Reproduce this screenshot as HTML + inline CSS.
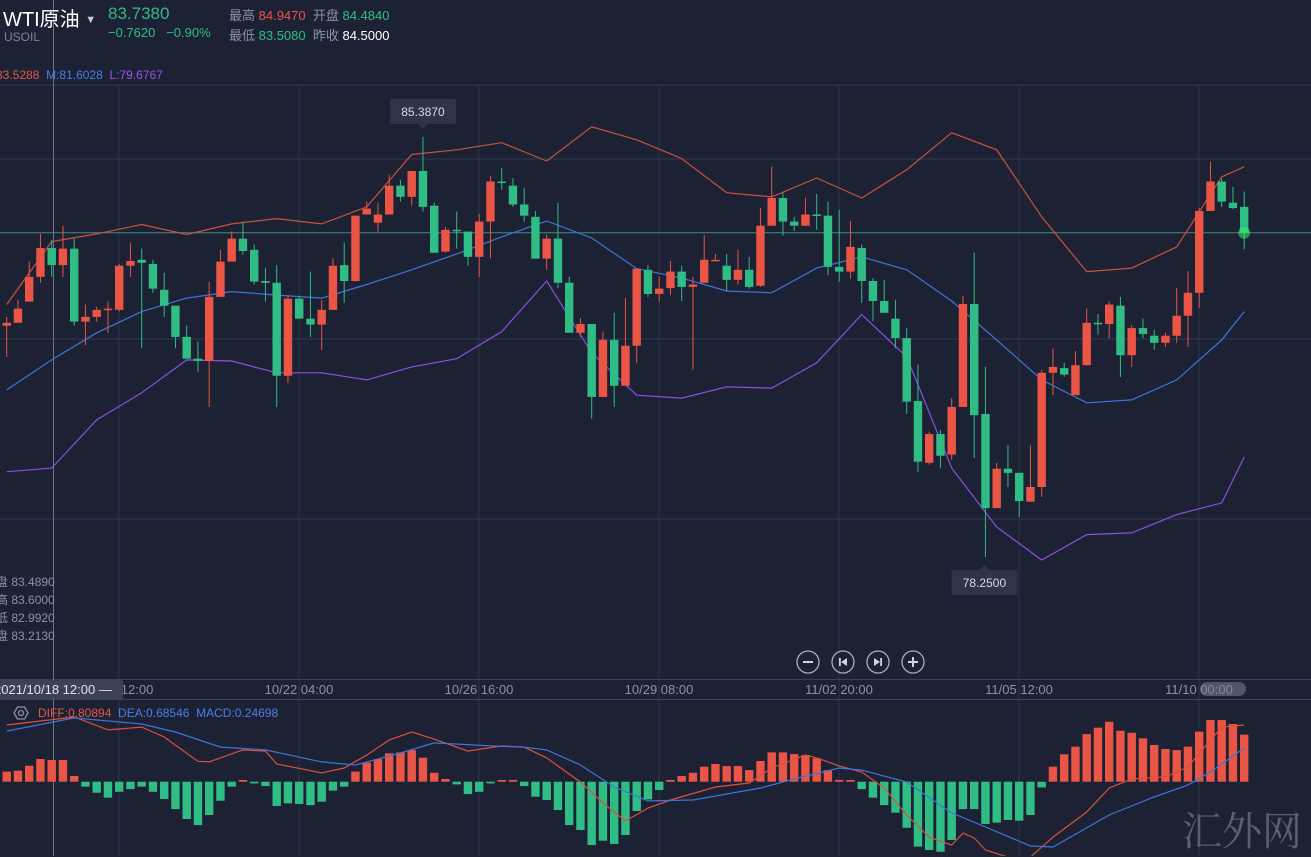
<!DOCTYPE html>
<html><head><meta charset="utf-8">
<style>
html,body{margin:0;padding:0;background:#1c2234;}
body{width:1311px;height:856px;overflow:hidden;position:relative;font-family:"Liberation Sans","Noto Sans CJK SC",sans-serif;}
.t{position:absolute;white-space:nowrap;}
svg{position:absolute;left:0;top:0;}
</style></head>
<body>
<svg id="chart" width="1311" height="856"></svg>

<div class="t" style="left:3px;top:3px;font-size:20px;color:#fff;">WTI原油 <span style="font-size:11px;color:#ccc;vertical-align:3px">▼</span></div>
<div class="t" style="left:4px;top:30px;font-size:12px;color:#7d8699;">USOIL</div>
<div class="t" style="left:108px;top:4px;font-size:17px;color:#2ebd85;">83.7380</div>
<div class="t" style="left:108px;top:25px;font-size:13px;color:#2ebd85;">−0.7620&nbsp;&nbsp;&nbsp;−0.90%</div>
<div class="t" style="left:229px;top:5px;font-size:13px;color:#8a93a6;">最高 <span style="color:#ea5546">84.9470</span>&nbsp;&nbsp;开盘 <span style="color:#2ebd85">84.4840</span></div>
<div class="t" style="left:229px;top:25px;font-size:13px;color:#8a93a6;">最低 <span style="color:#2ebd85">83.5080</span>&nbsp;&nbsp;昨收 <span style="color:#fff">84.5000</span></div>
<div class="t" style="left:-4px;top:68px;font-size:12px;"><span style="color:#e0584a">83.5288</span>&nbsp;&nbsp;<span style="color:#4a7fe6">M:81.6028</span>&nbsp;&nbsp;<span style="color:#9b55e8">L:79.6767</span></div>
<div class="t" style="left:-4px;top:573px;font-size:12px;line-height:18px;color:#8a93a6;">盘 83.4890<br>高 83.6000<br>低 82.9920<br>盘 83.2130</div>
<div class="t" style="left:38px;top:706px;font-size:12px;"><span style="color:#e0584a">DIFF:0.80894</span>&nbsp;&nbsp;<span style="color:#4a7fe6">DEA:0.68546</span>&nbsp;&nbsp;<span style="color:#4a7fe6">MACD:0.24698</span></div>
<div class="t" style="left:1182px;top:800px;font-size:40px;color:#5a6070;font-family:'Noto Serif CJK SC',serif;">汇外网</div>

<script>
const opens=[82.18,82.23,82.59,83.01,83.50,83.21,83.49,82.25,82.33,82.45,82.45,83.20,83.30,83.23,82.79,82.52,81.99,81.62,81.58,82.67,83.27,83.66,83.47,82.94,82.91,81.33,82.64,82.30,82.20,82.45,83.21,82.94,84.07,83.93,84.07,84.56,84.37,84.81,84.22,83.44,83.81,83.78,83.35,83.95,84.63,84.56,84.24,84.03,83.32,83.66,82.91,82.06,82.21,80.97,81.94,81.16,81.84,83.13,82.72,82.82,83.10,82.84,82.91,83.28,83.20,82.96,83.13,82.86,83.88,84.35,83.95,83.88,84.07,84.05,83.18,83.10,83.50,82.94,82.60,82.30,81.97,80.90,79.85,80.34,79.99,80.80,82.55,80.68,79.08,79.75,79.68,79.19,79.44,81.38,81.46,81.00,81.51,82.23,82.21,82.52,81.68,82.14,82.01,81.89,82.01,82.35,82.74,84.13,84.63,84.27,84.20];
const closes=[82.23,82.47,83.01,83.50,83.21,83.49,82.25,82.33,82.45,82.47,83.20,83.28,83.25,82.81,82.52,81.99,81.62,81.58,82.67,83.27,83.66,83.45,82.93,82.91,81.33,82.64,82.30,82.20,82.45,83.20,82.94,84.05,84.17,84.07,84.56,84.37,84.81,84.20,83.42,83.81,83.79,83.35,83.95,84.63,84.61,84.24,84.05,83.32,83.66,82.91,82.06,82.21,80.97,81.94,81.16,81.84,83.15,82.72,82.81,83.10,82.84,82.88,83.30,83.30,82.96,83.13,82.84,83.88,84.35,83.95,83.88,84.07,84.05,83.18,83.10,83.52,82.94,82.60,82.40,81.97,80.89,79.87,80.34,79.97,80.80,82.55,80.66,79.08,79.75,79.68,79.20,79.44,81.38,81.48,81.35,81.51,82.23,82.21,82.54,81.68,82.14,82.04,81.89,82.01,82.35,82.74,84.13,84.63,84.29,84.18,83.76];
const highs=[82.33,82.62,83.27,83.74,83.64,83.88,83.66,82.54,82.50,82.59,83.23,83.59,83.49,83.30,83.08,82.52,82.18,81.91,82.93,83.47,83.78,83.95,83.56,83.16,83.21,82.70,82.69,83.10,82.62,83.33,83.59,84.05,84.29,84.27,84.75,84.66,84.81,85.39,84.27,83.86,84.12,83.78,84.08,84.73,84.86,84.69,84.52,84.13,83.73,84.27,83.01,82.31,82.21,82.08,82.40,82.65,83.15,83.21,83.01,83.28,83.20,83.01,83.72,83.40,83.40,83.47,83.35,84.18,84.88,84.46,84.03,84.35,84.42,84.29,84.15,83.96,83.56,82.99,82.96,82.62,82.14,81.52,80.38,80.41,80.95,82.69,83.42,81.48,79.85,80.15,79.68,80.15,81.43,81.79,81.55,81.75,82.47,82.38,82.59,82.67,82.19,82.30,82.11,82.06,82.82,83.11,84.18,84.97,84.68,84.54,84.46];
const lows=[81.65,82.23,82.59,82.91,83.01,83.01,82.18,81.85,82.25,82.06,82.42,83.01,81.80,82.74,82.33,81.80,81.62,81.40,80.80,82.67,83.27,83.39,82.88,82.59,80.80,81.21,82.30,81.99,81.77,82.45,82.57,82.93,84.07,83.78,84.07,84.29,84.22,84.12,83.42,83.42,83.49,83.20,83.01,83.33,84.49,84.20,83.95,83.32,83.13,82.82,82.06,81.99,80.60,80.97,80.80,81.16,81.55,82.67,82.59,82.70,82.60,81.43,82.91,83.28,82.77,82.88,82.81,82.84,83.88,83.71,83.79,83.88,83.81,83.04,82.93,82.98,82.57,82.26,82.40,81.80,80.68,79.70,79.82,79.76,79.90,80.80,79.93,78.25,79.08,79.44,78.93,79.19,79.27,81.00,81.31,81.00,81.50,82.03,81.97,81.31,81.48,81.97,81.77,81.82,81.89,81.82,82.48,84.13,84.20,84.16,83.48];
const bandIdx=[0,4,8,12,16,20,24,28,32,36,40,44,48,52,56,60,64,68,72,76,80,84,88,92,96,100,104,108,110];
const bollUpper=[82.54,83.61,83.74,83.90,83.73,83.91,84.00,83.91,84.20,85.09,85.17,85.29,84.98,85.56,85.34,85.02,84.44,84.37,84.69,84.35,84.83,85.46,85.17,84.03,83.10,83.16,83.52,84.71,84.88];
const bollMid=[81.09,81.60,82.06,82.42,82.65,82.76,82.70,82.65,82.88,83.13,83.40,83.69,83.96,83.67,83.15,82.99,82.77,82.74,83.16,83.35,83.13,82.60,81.94,81.26,80.87,80.92,81.26,81.94,82.42];
const bollLower=[79.70,79.76,80.58,81.04,81.60,81.58,81.38,81.38,81.26,81.48,81.62,82.08,82.94,81.72,81.00,80.95,81.14,81.12,81.55,82.37,81.65,79.76,78.76,78.20,78.63,78.66,78.97,79.17,79.95];
const macdHist=[0.053,0.058,0.084,0.119,0.114,0.114,0.030,-0.026,-0.058,-0.084,-0.053,-0.039,-0.026,-0.053,-0.091,-0.144,-0.196,-0.228,-0.175,-0.100,-0.026,0.009,-0.009,-0.023,-0.128,-0.114,-0.117,-0.123,-0.105,-0.047,-0.026,0.053,0.100,0.119,0.149,0.154,0.166,0.126,0.047,0.014,-0.014,-0.065,-0.053,-0.009,0.009,0.009,-0.023,-0.079,-0.096,-0.149,-0.228,-0.254,-0.333,-0.310,-0.327,-0.280,-0.154,-0.093,-0.044,0.009,0.030,0.047,0.079,0.093,0.082,0.082,0.061,0.109,0.154,0.154,0.145,0.140,0.123,0.061,0.009,0.009,-0.039,-0.084,-0.123,-0.163,-0.242,-0.341,-0.359,-0.368,-0.306,-0.144,-0.144,-0.222,-0.215,-0.201,-0.205,-0.175,-0.030,0.079,0.144,0.184,0.250,0.284,0.315,0.268,0.257,0.228,0.193,0.172,0.166,0.184,0.263,0.324,0.324,0.303,0.247];
const deaIdx=[0,6,12,15,19,23,28,31,35,38,43,46,48,51,54,57,61,67,70,74,76,80,84,87,91,93,98,102,105,107,110];
const deaVals=[0.266,0.335,0.303,0.261,0.182,0.167,0.104,0.088,0.151,0.204,0.188,0.182,0.167,0.088,-0.028,-0.101,-0.096,-0.033,0.014,0.072,0.061,-0.002,-0.164,-0.238,-0.338,-0.343,-0.175,-0.080,-0.017,0.051,0.177];
const diffIdx=[0,6,9,12,14,17,18,21,23,24,28,30,32,34,36,38,41,44,46,48,51,53,55,57,59,63,66,68,71,72,74,76,78,80,82,84,85,86,87,89,91,93,96,98,100,103,105,107,108,110];
const diffVals=[0.298,0.340,0.272,0.287,0.235,0.107,0.104,0.167,0.161,0.093,0.046,0.072,0.140,0.219,0.261,0.224,0.161,0.188,0.182,0.125,-0.002,-0.112,-0.206,-0.138,-0.096,-0.028,-0.007,0.072,0.140,0.125,0.083,0.051,-0.033,-0.175,-0.291,-0.333,-0.270,-0.296,-0.359,-0.396,-0.396,-0.291,-0.159,-0.033,0.014,0.025,0.077,0.219,0.287,0.298];
const timeLabels=["10/19 12:00","10/22 04:00","10/26 16:00","10/29 08:00","11/02 20:00","11/05 12:00","11/10 00:00"];

const svg=document.getElementById('chart');
const NS='http://www.w3.org/2000/svg';
const X=i=>6.7+i*11.25;
const Y=p=>137+(85.387-p)*58.85;
const MY=v=>781.7-v*190.3;
const UP='#ea5546',DN='#2fbd85';
function mk(tag,attrs,parent){const e=document.createElementNS(NS,tag);for(const k in attrs)e.setAttribute(k,attrs[k]);(parent||svg).appendChild(e);return e;}

// grid
const grid=mk('g',{});


[85,159,339,519].forEach(y=>mk('line',{x1:0,x2:1311,y1:y,y2:y,stroke:'#323b52','stroke-width':1},grid));
for(let k=0;k<7;k++){const gx=119+180*k;mk('line',{x1:gx,x2:gx,y1:85,y2:856,stroke:'#2c3449','stroke-width':1},grid);}
mk('line',{x1:0,x2:1311,y1:679.5,y2:679.5,stroke:'#39425a'},grid);
mk('line',{x1:0,x2:1311,y1:699.5,y2:699.5,stroke:'#39425a'},grid);
// crosshair
const ch=mk('line',{x1:53.5,x2:53.5,y1:0,y2:856,stroke:'#6c7488','stroke-width':1});


// current price line
const pl=mk('line',{x1:0,x2:1311,y1:Y(closes[closes.length-1]),y2:Y(closes[closes.length-1]),stroke:'#3b8c82','stroke-width':1});



// bands
function poly(idx,vals,fy,color,name){const pts=idx.map((j,k)=>X(j).toFixed(1)+','+fy(vals[k]).toFixed(1)).join(' ');const e=mk('polyline',{points:pts,fill:'none',stroke:color,'stroke-width':1.2});}
poly(bandIdx,bollUpper,Y,'#c9523f','boll-upper');
poly(bandIdx,bollMid,Y,'#3f74d8','boll-mid');
poly(bandIdx,bollLower,Y,'#8b4fe0','boll-lower');

// candles
for(let i=0;i<opens.length;i++){
  const o=opens[i],c=closes[i],up=c>=o,col=up?UP:DN;
  const g=mk('g',{});
  
  
  const hi=Math.max(highs[i],o,c),lo=Math.min(lows[i],o,c);
  mk('line',{x1:X(i),x2:X(i),y1:Y(hi),y2:Y(lo),stroke:col,'stroke-width':1},g);
  const top=Y(Math.max(o,c)),h=Math.max(1.5,Y(Math.min(o,c))-top);
  mk('rect',{x:X(i)-4.2,y:top,width:8.4,height:h,fill:col},g);
}
// glow on last
const last=opens.length-1;
const glow=mk('circle',{cx:X(last),cy:Y(closes[last]),r:6,fill:'#3df06a',opacity:0.55});



// high/low labels
function tag(x,y,txt,down,name){const g=mk('g',{});
  mk('rect',{x:x-33,y:y,width:66,height:25,rx:2,fill:'#2c3549'},g);
  if(down) mk('polygon',{points:`${x-5},${y+25} ${x+5},${y+25} ${x},${y+30}`,fill:'#2c3549'},g);
  else mk('polygon',{points:`${x-5},${y} ${x+5},${y} ${x},${y-5}`,fill:'#2c3549'},g);
  const t=mk('text',{x:x,y:y+17,'text-anchor':'middle','font-size':12,fill:'#d6dae3','font-family':'Liberation Sans'},g);t.textContent=txt;}
const hiIdx=highs.indexOf(Math.max(...highs)),loIdx=lows.indexOf(Math.min(...lows));
tag(X(hiIdx),Y(highs[hiIdx])-38,highs[hiIdx]===85.39?'85.3870':highs[hiIdx].toFixed(4),true,'high-marker');
tag(X(loIdx)-1,Y(lows[loIdx])+13,lows[loIdx].toFixed(4),false,'low-marker');

// time axis
timeLabels.forEach((s,k)=>{const t=mk('text',{x:119+180*k,y:694,'text-anchor':'middle','font-size':13,fill:'#8a93a6','font-family':'Liberation Sans'});t.textContent=s;
  
  });
const cb=mk('rect',{x:0,y:680,width:123,height:19,fill:'#3a4256'});


const ct=mk('text',{x:-6,y:694,'font-size':13,fill:'#dfe3ea','font-family':'Liberation Sans'});ct.textContent='2021/10/18 12:00 —';


const sp=mk('rect',{x:1200,y:682,width:46,height:14,rx:7,fill:'#7a8194',opacity:0.55});



// nav buttons
['minus','first','last','plus'].forEach((n,k)=>{const cx=808+35*k,cy=662;const g=mk('g',{});
  
  
  mk('circle',{cx,cy,r:11,fill:'none',stroke:'#a8afbd','stroke-width':1.3},g);
  if(n==='minus'||n==='plus')mk('line',{x1:cx-5,x2:cx+5,y1:cy,y2:cy,stroke:'#d0d4dc','stroke-width':2},g);
  if(n==='plus')mk('line',{x1:cx,x2:cx,y1:cy-5,y2:cy+5,stroke:'#d0d4dc','stroke-width':2},g);
  if(n==='first'){mk('rect',{x:cx-4,y:cy-4,width:1.8,height:8,fill:'#d0d4dc'},g);mk('polygon',{points:`${cx+4},${cy-4} ${cx+4},${cy+4} ${cx-2},${cy}`,fill:'#d0d4dc'},g);}
  if(n==='last'){mk('rect',{x:cx+2.2,y:cy-4,width:1.8,height:8,fill:'#d0d4dc'},g);mk('polygon',{points:`${cx-4},${cy-4} ${cx-4},${cy+4} ${cx+2},${cy}`,fill:'#d0d4dc'},g);}
});

// settings icon
const si=mk('g',{});


mk('polygon',{points:'14,713 17.5,707 24.5,707 28,713 24.5,719 17.5,719',fill:'none',stroke:'#8a93a6','stroke-width':1.3},si);
mk('circle',{cx:21,cy:713,r:2.5,fill:'none',stroke:'#8a93a6','stroke-width':1.3},si);

// MACD histogram
for(let i=0;i<macdHist.length;i++){const v=macdHist[i];const y0=MY(0),y1=MY(v);
  const r=mk('rect',{x:X(i)-4.2,y:Math.min(y0,y1),width:8.4,height:Math.max(1.5,Math.abs(y1-y0)),fill:v>=0?UP:DN});
  
  }
poly(diffIdx,diffVals,MY,'#d9503f','diff-line');
poly(deaIdx,deaVals,MY,'#3f74d8','dea-line');
</script>
</body></html>
